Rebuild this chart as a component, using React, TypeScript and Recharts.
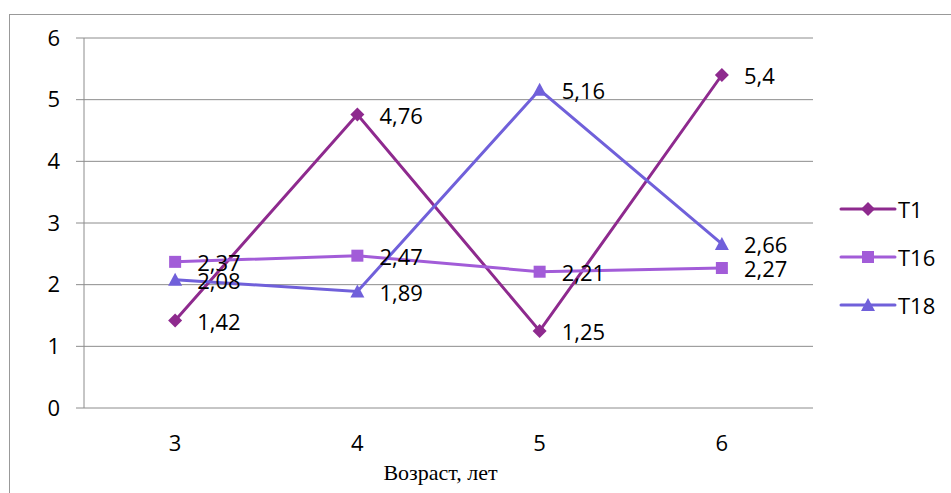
import React from 'react';
import { LineChart, Line, XAxis, YAxis, CartesianGrid, LabelList, Label } from 'recharts';

const ages = [3, 4, 5, 6];
const t1 = [1.42, 4.76, 1.25, 5.4];
const t16 = [2.37, 2.47, 2.21, 2.27];
const t18 = [2.08, 1.89, 5.16, 2.66];
const yTicks = [0, 1, 2, 3, 4, 5, 6];
const boundaryTicks = [2.5, 3.5, 4.5, 5.5, 6.5];
const seriesNames = ['T1', 'T16', 'T18'];
const axisTitle = 'Возраст, лет';

const data = ages.map((a, i) => ({ age: a, T1: t1[i], T16: t16[i], T18: t18[i] }));

const COLORS: Record<string, string> = { T1: '#8E2A8E', T16: '#A25CD8', T18: '#7060DA' };
const SHAPES: Record<string, string> = { T1: 'diamond', T16: 'square', T18: 'triangle' };
const FONT = '"Open Sans", sans-serif';
const GRID = '#8c8c8c';

const fmt = (v: any) => String(v).replace('.', ',');

function Marker({ cx, cy, shape, color }: { cx: number; cy: number; shape: string; color: string }) {
  if (cx == null || cy == null) return <g />;
  if (shape === 'diamond') {
    const r = 7;
    return <polygon points={`${cx},${cy - r} ${cx + r},${cy} ${cx},${cy + r} ${cx - r},${cy}`} fill={color} />;
  }
  if (shape === 'square') {
    const r = 6;
    return <rect x={cx - r} y={cy - r} width={2 * r} height={2 * r} fill={color} />;
  }
  return <polygon points={`${cx},${cy - 7} ${cx + 7},${cy + 6} ${cx - 7},${cy + 6}`} fill={color} />;
}

const makeDot = (name: string) => (props: any) => (
  <Marker key={`${name}-${props.index}`} cx={props.cx} cy={props.cy} shape={SHAPES[name]} color={COLORS[name]} />
);

const renderLabel = (props: any) => {
  const x = props.x ?? props.viewBox?.x;
  const y = props.y ?? props.viewBox?.y;
  return (
    <text x={x + 22} y={y} dy="0.42em" fontSize={22} fontFamily={FONT} fill="#000">
      {fmt(props.value)}
    </text>
  );
};

const LegendBox = () => (
  <div style={{ position: 'absolute', left: 838, top: 185, width: 110 }}>
    {seriesNames.map((n) => (
      <div key={n} style={{ display: 'flex', alignItems: 'center', height: 48 }}>
        <svg width={60} height={20}>
          <line x1={3} y1={10} x2={57} y2={10} stroke={COLORS[n]} strokeWidth={3} strokeLinecap="round" />
          <Marker cx={30} cy={10} shape={SHAPES[n]} color={COLORS[n]} />
        </svg>
        <span style={{ fontFamily: FONT, fontSize: 22, color: '#000', marginLeft: 0 }}>{n}</span>
      </div>
    ))}
  </div>
);

export default function App() {
  return (
    <div style={{ position: 'absolute', left: 0, top: 0, width: 951, height: 493, background: '#fff', overflow: 'hidden' }}>
      <div style={{ position: 'absolute', left: 9, top: 14, width: 960, height: 500, borderLeft: '1px solid #999', borderTop: '1px solid #999' }} />
      <LineChart
        width={951}
        height={493}
        data={data}
        margin={{ top: 38, right: 138, bottom: 55, left: 0 }}
        style={{ position: 'absolute', left: 0, top: 0 }}
      >
        <CartesianGrid horizontal vertical={false} stroke={GRID} strokeWidth={1} xAxisId="tick" />
        <XAxis
          xAxisId="tick"
          dataKey="age"
          type="number"
          domain={[2.5, 6.5]}
          ticks={boundaryTicks}
          height={0}
          tick={() => <g />}
          tickSize={8}
          tickLine={{ stroke: GRID }}
          axisLine={{ stroke: GRID }}
        />
        <XAxis
          xAxisId="lab"
          dataKey="age"
          type="number"
          domain={[2.5, 6.5]}
          ticks={ages}
          height={30}
          tickSize={8}
          tickMargin={19}
          tickLine={false}
          axisLine={false}
          tick={{ fontSize: 22, fontFamily: FONT, fill: '#000' }}
        >
          <Label
            content={(p: any) => {
              const vb = p.viewBox || {};
              return (
                <text x={vb.x + vb.width / 2 - 8} y={vb.y + 72} textAnchor="middle" fontSize={22} fontFamily='"Liberation Serif", "Times New Roman", serif' fill="#000">
                  {axisTitle}
                </text>
              );
            }}
          />
        </XAxis>
        <YAxis
          domain={[0, 6]}
          ticks={yTicks}
          width={84}
          tickSize={8}
          tickMargin={16}
          interval={0}
          tickLine={{ stroke: GRID }}
          axisLine={{ stroke: GRID }}
          tick={{ fontSize: 22, fontFamily: FONT, fill: '#000' }}
        />
        {seriesNames.map((n) => (
          <Line
            key={n}
            xAxisId="lab"
            type="linear"
            dataKey={n}
            stroke={COLORS[n]}
            strokeWidth={3}
            dot={makeDot(n)}
            activeDot={false}
            isAnimationActive={false}
          >
            <LabelList dataKey={n} content={renderLabel} />
          </Line>
        ))}
      </LineChart>
      <LegendBox />
    </div>
  );
}
